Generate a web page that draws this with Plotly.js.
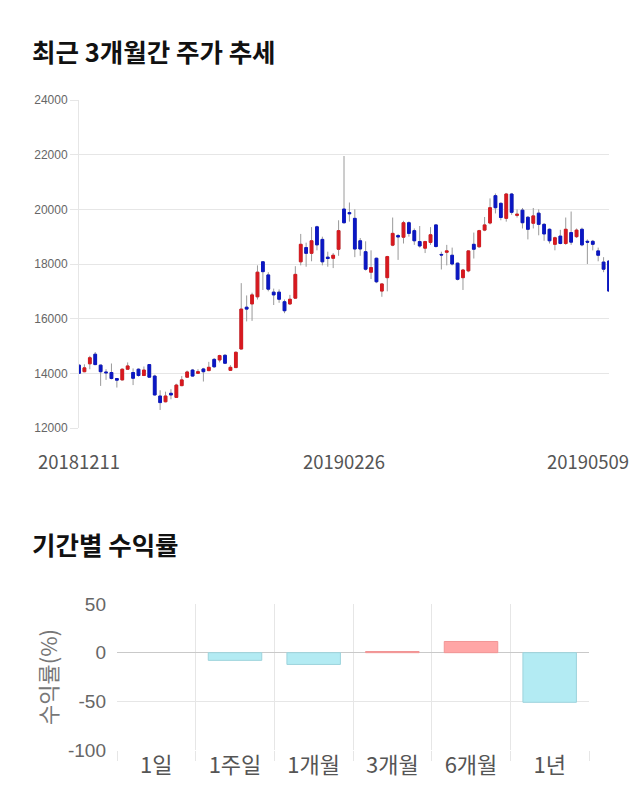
<!DOCTYPE html>
<html>
<head>
<meta charset="utf-8">
<script src="https://cdn.plot.ly/plotly-3.0.1.min.js"></script>
<style>html,body{margin:0;padding:0;background:#fff;}#chart{width:640px;height:810px;}</style>
</head>
<body>
<div id="chart"></div>
<script>
// ---- data: daily candles (trading days) ----
const dates = [
 '20181211','20181212','20181213','20181214','20181217','20181218','20181219','20181220','20181221','20181224','20181226','20181227','20181228',
 '20190102','20190103','20190104','20190107','20190108','20190109','20190110','20190111','20190114','20190115','20190116','20190117','20190118','20190121','20190122','20190123','20190124','20190125','20190128','20190129','20190130','20190131',
 '20190201','20190207','20190208','20190211','20190212','20190213','20190214','20190215','20190218','20190219','20190220','20190221','20190222','20190225','20190226','20190227','20190228',
 '20190304','20190305','20190306','20190307','20190308','20190311','20190312','20190313','20190314','20190315','20190318','20190319','20190320','20190321','20190322','20190325','20190326','20190327','20190328','20190329',
 '20190401','20190402','20190403','20190404','20190405','20190408','20190409','20190410','20190411','20190412','20190415','20190416','20190417','20190418','20190419','20190422','20190423','20190424','20190425','20190426','20190429','20190430',
 '20190502','20190503','20190507','20190508','20190509'
];
const openP = [
 14300,14060,14350,14700,14300,14050,14030,13810,13760,14150,14030,14150,13920,
 14320,13900,13170,12960,13270,13120,13550,13860,14120,14000,14160,14100,14510,14490,14660,14110,14210,14890,16420,16540,16800,18080,
 17600,16970,16970,16620,16540,16750,18080,18600,18390,19360,18900,18250,18210,18540,20010,19880,19670,
 18850,18450,17700,18210,17010,17500,18690,19040,18980,19510,19220,18820,18580,18790,19430,18350,18430,18320,18030,17500,
 17750,18720,18630,19240,19500,20500,20220,19670,20560,19780,19970,19710,19490,19860,19450,19270,18720,19020,18750,19150,19000,19270,
 18830,18830,18480,18070,18110
];
const highP = [
 14320,14330,14640,14780,14320,14150,14360,13830,14180,14400,14180,14180,14250,
 14340,13950,13380,13330,13420,13620,13900,14100,14160,14150,14200,14420,14560,14680,14700,14300,14800,17300,16850,16950,17950,18100,
 17700,17100,17070,16700,16870,17920,19100,18780,19350,19400,19000,18450,18400,19600,21950,20250,20000,
 18950,18830,18500,18230,17290,18300,19700,19100,19580,19560,19300,19390,18850,19350,19450,18450,18700,18600,18050,17820,
 18500,19150,19250,19720,20400,20580,20250,20600,20600,20000,20050,19750,20050,20000,19500,19300,19000,19250,19700,19920,19300,19330,
 18900,18880,18600,18250,18130
];
const lowP = [
 13980,14040,14150,14300,13540,13760,13780,13480,13740,14140,13570,13880,13900,
 13840,13190,12660,12940,13050,13100,13530,13840,13880,13980,13700,14080,14200,14400,14340,14100,14200,14880,15900,15920,16700,17050,
 17000,16500,16580,16200,16500,16740,17950,17900,18100,18500,17950,17900,17850,18300,19480,19550,18250,
 18300,17760,17450,17300,16800,17000,18650,18150,18750,19000,18700,18600,18400,18700,18600,17800,17950,17950,17400,17050,
 17700,18200,18600,19200,19450,19850,19600,19550,19800,19700,19300,18900,19300,19050,18850,18750,18500,18720,18700,18700,18950,18650,
 18000,18500,18100,17700,16980
];
const closeP = [
 14000,14200,14570,14320,14060,14020,13810,13750,14150,14270,13820,13920,14120,
 13860,13210,12930,13170,13210,13570,13760,14050,13900,14060,14060,14220,14240,14650,14370,14220,14770,16350,16350,16870,17700,17720,
 17080,16870,16710,16290,16710,17620,18720,18390,18850,18700,18080,18200,18320,19220,19510,19840,18550,
 18550,17810,17870,17350,17270,18270,19120,18990,19510,19120,18850,18660,18820,19070,18640,18330,18480,18000,17440,17780,
 18480,18540,19220,19430,20060,20060,19700,20560,19890,19820,19510,19270,19760,19450,19100,18850,18960,18750,19270,18800,19240,18700,
 18800,18720,18320,17810,17010
];
const dateLabels = ['20181211', '20190226', '20190509'];

// ---- data: period returns ----
const periods = ['1일', '1주일', '1개월', '3개월', '6개월', '1년'];
const returns = [0, -7.9, -12.1, 1.2, 11.5, -51.0];
const returnTicks = [-100, -50, 0, 50];
const returnTickText = ['-100', '-50', '0', '50'];

// ---- styles ----
const RED = '#d7191f', BLUE = '#0b17c3', WICK = '#9a9a9a';
const GRID = '#e6e6e6';
const NUMFONT = 'Liberation Sans, Arial, Noto Sans CJK KR, sans-serif';
const KRFONT = 'Noto Sans CJK KR, Liberation Sans, sans-serif';

const bodyHigh = openP.map((o, i) => Math.max(o, closeP[i]));
const bodyLow = openP.map((o, i) => Math.min(o, closeP[i]));

const wicks = {
  type: 'candlestick', x: dates, open: openP, high: highP, low: lowP, close: closeP,
  xaxis: 'x', yaxis: 'y',
  increasing: {line: {color: WICK, width: 1}, fillcolor: WICK},
  decreasing: {line: {color: WICK, width: 1}, fillcolor: WICK},
  hoverinfo: 'skip'
};
const bodies = {
  type: 'candlestick', x: dates, open: openP, high: bodyHigh, low: bodyLow, close: closeP,
  xaxis: 'x', yaxis: 'y',
  increasing: {line: {color: RED, width: 1}, fillcolor: RED},
  decreasing: {line: {color: BLUE, width: 1}, fillcolor: BLUE},
  hoverinfo: 'skip'
};
const bars = {
  type: 'bar', x: periods, y: returns, xaxis: 'x2', yaxis: 'y2',
  marker: {
    color: returns.map(v => v > 0 ? '#ffa6a6' : (v < 0 ? '#b3ebf3' : 'rgba(0,0,0,0)')),
    line: {color: returns.map(v => v > 0 ? '#f29595' : (v < 0 ? '#9dd3dc' : 'rgba(0,0,0,0)')), width: 1}
  },
  hoverinfo: 'skip'
};

const H = 810, W = 640;
const layout = {
  width: W, height: H,
  margin: {l: 0, r: 0, t: 0, b: 0},
  paper_bgcolor: '#fff', plot_bgcolor: '#fff',
  showlegend: false,
  boxgap: 0.28,
  bargap: 0.32,
  xaxis: {
    domain: [79 / W, 609 / W], anchor: 'y', type: 'category',
    range: [0, dates.length - 1],
    rangeslider: {visible: false},
    showgrid: false, showticklabels: false, ticks: '', zeroline: false, showline: false,
    fixedrange: true
  },
  yaxis: {
    domain: [(H - 428) / H, (H - 100) / H], anchor: 'x',
    range: [12000, 24000], tick0: 12000, dtick: 2000, tickformat: 'd',
    gridcolor: GRID, showline: true, linecolor: GRID, linewidth: 1,
    ticks: 'outside', ticklen: 8, tickcolor: GRID,
    tickfont: {family: NUMFONT, size: 12, color: '#666'},
    zeroline: false, fixedrange: true
  },
  xaxis2: {
    domain: [117 / W, 589 / W], anchor: 'y2', type: 'category',
    tickson: 'boundaries', showgrid: true, gridcolor: GRID,
    ticks: 'outside', ticklen: 10, tickcolor: GRID,
    tickfont: {family: KRFONT, size: 22, color: '#555'},
    showline: false, zeroline: false, fixedrange: true
  },
  yaxis2: {
    domain: [(H - 750) / H, (H - 604) / H], anchor: 'x2',
    range: [-100, 50], tickmode: 'array', tickvals: returnTicks, ticktext: returnTickText,
    gridcolor: GRID, zeroline: true, zerolinecolor: '#c9c9c9', zerolinewidth: 1,
    showline: false, ticks: '', ticklabelstandoff: 10,
    tickfont: {family: NUMFONT, size: 19, color: '#666'},
    title: {text: '수익률(%)', font: {family: KRFONT, size: 22, color: '#777'}, standoff: 4},
    fixedrange: true
  },
  annotations: [
    {xref: 'paper', yref: 'paper', x: 30 / W, y: (H - 50) / H, xanchor: 'left', yanchor: 'middle',
     text: '최근 3개월간 주가 추세', showarrow: false,
     font: {family: KRFONT, size: 25.5, color: '#111', weight: 700}},
    {xref: 'paper', yref: 'paper', x: 30 / W, y: (H - 543) / H, xanchor: 'left', yanchor: 'middle',
     text: '기간별 수익률', showarrow: false,
     font: {family: KRFONT, size: 25.5, color: '#111', weight: 700}}
  ].concat(dateLabels.map((d, k) => ({
    xref: 'x', yref: 'paper', x: dates.indexOf(d), y: (H - 461) / H,
    xanchor: k === dateLabels.length - 1 ? 'right' : 'center', xshift: k === dateLabels.length - 1 ? 22 : 0,
    yanchor: 'middle', text: d, showarrow: false,
    font: {family: KRFONT, size: 18.5, color: '#555'}
  })))
};

Plotly.newPlot('chart', [wicks, bodies, bars], layout, {displayModeBar: false, staticPlot: true});
</script>
</body>
</html>
